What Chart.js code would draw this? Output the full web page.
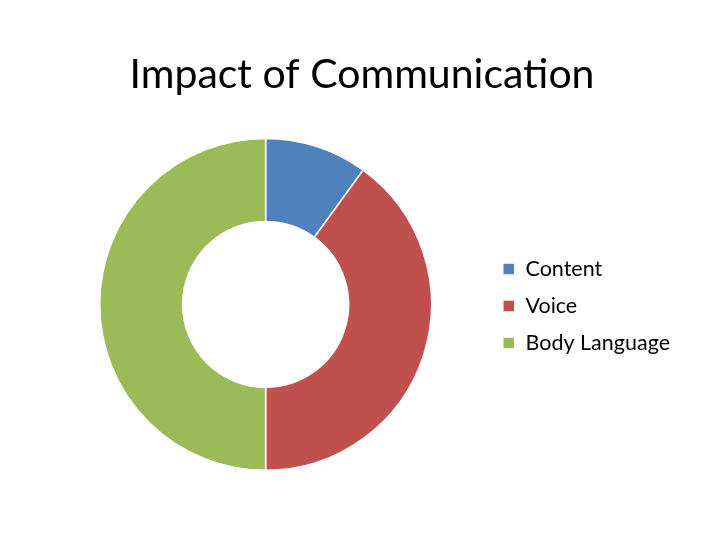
<!DOCTYPE html>
<html>
<head>
<meta charset="utf-8">
<script src="https://cdn.jsdelivr.net/npm/chart.js@4/dist/chart.umd.min.js"></script>
<style>
  html, body { margin: 0; padding: 0; background: #fff; }
  #wrap { width: 720px; height: 540px; }
</style>
</head>
<body>
<div id="wrap"><canvas id="myChart" width="720" height="540"></canvas></div>
<script>
var categories = ['Content', 'Voice', 'Body Language'];
var shares = [10, 40, 50];
var sliceColors = ['#4F81BD', '#C0504D', '#9BBB59'];

document.addEventListener('DOMContentLoaded', function() {
    var ctx = document.getElementById('myChart').getContext('2d');

    var myChart = new Chart(ctx, {
        type: 'doughnut',
        data: {
            labels: categories,
            datasets: [{
                data: shares,
                backgroundColor: sliceColors,
                borderColor: '#ffffff',
                borderWidth: 1.5
            }]
        },
        options: {
            responsive: false,
            animation: false,
            cutout: '50%',
            layout: {
                padding: { left: 44, right: 40, top: 0, bottom: 69 }
            },
            plugins: {
                title: {
                    display: true,
                    text: 'Impact of Communication',
                    color: '#000',
                    font: { family: 'Lato', size: 41, weight: 'normal' },
                    padding: { top: 50.5, bottom: 38 }
                },
                legend: {
                    position: 'right',
                    align: 'start',
                    // empty legend title only used to push the items down
                    title: {
                        display: true,
                        text: ' ',
                        font: { size: 10 },
                        padding: { top: 230.75, bottom: 0 }
                    },
                    labels: {
                        color: '#000',
                        boxWidth: 12,
                        boxHeight: 12,
                        padding: 15.5,
                        font: { family: 'Lato', size: 21.5 }
                    }
                },
                tooltip: { enabled: false }
            }
        }
    });
});
</script>
</body>
</html>
